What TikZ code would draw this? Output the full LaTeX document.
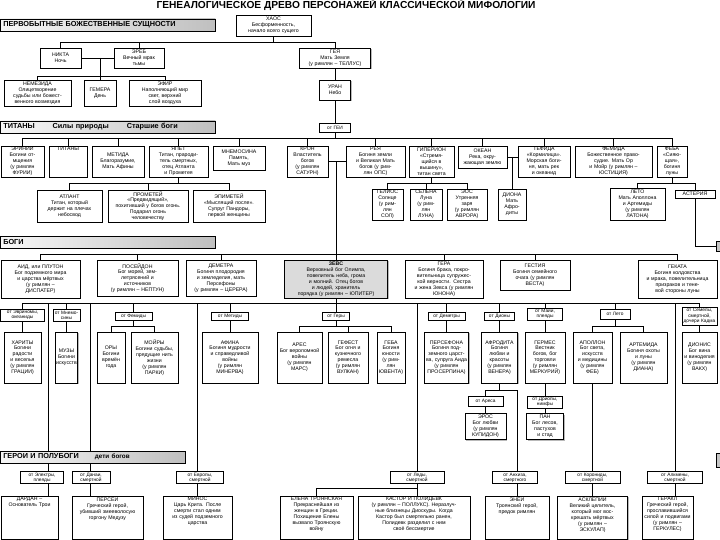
\documentclass[tikz,border=0pt]{standalone}
\usepackage{fontspec}
\setmainfont{Liberation Sans}
\usetikzlibrary{shadows, backgrounds}
\newcommand{\toptext}[2]{\parbox[c][#1pt][t]{\linewidth}{\centering #2}}

\tikzset{
  tbox/.style={rectangle, draw=black, line width=0.6pt, fill=white, align=center, inner xsep=0pt, inner ysep=1pt,
    font=\fontsize{5.2}{5.9}\selectfont, drop shadow={shadow xshift=1pt, shadow yshift=-1pt, fill=gray!55, opacity=1}},
  lbl/.style={rectangle, draw=black, line width=0.5pt, fill=white, align=center, inner xsep=0pt, inner ysep=0.6pt,
    font=\fontsize{4.8}{5.2}\selectfont},
  sz/.style 2 args={text width=#1pt, minimum height=#2pt},
  bar/.style={rectangle, draw=black, line width=0.6pt, left color=gray!6, right color=gray!50, anchor=west, align=left,
    inner xsep=3pt, inner ysep=0pt, minimum height=12pt, font=\fontsize{7.3}{8}\selectfont\bfseries},
  link/.style={line width=0.7pt}
}

\begin{document}
\begin{tikzpicture}[x=1pt, y=-1pt]
\useasboundingbox (0,0) rectangle (720,540);

\node[font=\fontsize{10.2}{11}\selectfont\bfseries] (title) at (346,5) {ГЕНЕАЛОГИЧЕСКОЕ ДРЕВО ПЕРСОНАЖЕЙ КЛАССИЧЕСКОЙ МИФОЛОГИИ};

% section bars
\node[bar, text width=209pt] (bar1) at (0,25) {ПЕРВОБЫТНЫЕ БОЖЕСТВЕННЫЕ СУЩНОСТИ};
\node[bar, text width=209pt] (bar2) at (0,127) {ТИТАНЫ\hspace{18pt}Силы природы\hspace{18pt}Старшие боги};
\node[bar, text width=209pt] (bar3) at (0,242) {БОГИ};
\node[bar, text width=179pt] (bar4) at (0,457) {ГЕРОИ И ПОЛУБОГИ\hspace{16pt}{\fontsize{6.3}{7}\selectfont дети богов}};
\draw[fill=gray!45] (716,241) rectangle (722,251);
\draw[fill=gray!45] (716,453) rectangle (722,467);

% primordial beings
\node[tbox, sz={75}{21}] (chaos) at (273.5,25.5) {ХАОС\\Бесформенность,\\начало всего сущего};
\node[tbox, sz={41}{20}] (nikta) at (60.5,58) {НИКТА\\Ночь};
\node[tbox, sz={50}{20}] (ereb) at (139,58) {ЭРЕБ\\Вечный мрак\\тьмы};
\node[tbox, sz={71}{20}] (geya) at (335,58) {ГЕЯ\\Мать Земля\\(у римлян – ТЕЛЛУС)};
\node[tbox, sz={67}{26}] (nemez) at (37.5,93) {НЕМЕЗИДА\\Олицетворение\\судьбы или божест-\\венного возмездия};
\node[tbox, sz={32}{26}] (gemera) at (100,93) {ГЕМЕРА\\День};
\node[tbox, sz={72}{26}] (efir) at (165,93) {ЭФИР\\Наполняющий мир\\свет, верхний\\слой воздуха};
\node[tbox, sz={31}{20}] (uran) at (335,90) {УРАН\\Небо};
\node[lbl, sz={31}{9}] (otgei) at (335,127.5) {от ГЕИ};

% titans
\node[tbox, sz={43}{31}] (erinii) at (22.5,161.5) {ЭРИНИИ\\Богини от-\\мщения\\(у римлян\\ФУРИИ)};
\node[tbox, sz={38}{31}] (titany) at (68,161.5) {\toptext{29}{ТИТАНЫ}};
\node[tbox, sz={52}{31}] (metida) at (118,161.5) {МЕТИДА\\Благоразумие,\\Мать Афины};
\node[tbox, sz={59}{31}] (yapet) at (178.5,161.5) {ЯПЕТ\\Титан, прароди-\\тель смертных,\\отец Атланта\\и Прометея};
\node[tbox, sz={52}{24}] (mnemos) at (239,158) {МНЕМОСИНА\\Память,\\Мать муз};
\node[tbox, sz={41}{31}] (kron) at (307.5,161.5) {КРОН\\Властитель\\богов\\(у римлян\\САТУРН)};
\node[tbox, sz={59}{31}] (reya) at (375.5,161.5) {РЕЯ\\Богиня земли\\и Великая Мать\\богов (у рим-\\лян ОПС)};
\node[tbox, sz={45}{31}] (giper) at (431.5,161.5) {ГИПЕРИОН\\«Стремя-\\щийся в\\вышину»,\\титан света};
\node[tbox, sz={49}{22}] (okean) at (482.5,157) {ОКЕАН\\Река, окру-\\жающая землю};
\node[tbox, sz={52}{31}] (tefida) at (544,161.5) {ТЕФИДА\\«Кормилица».\\Морская боги-\\ня, мать рек\\и океанид};
\node[tbox, sz={77}{31}] (femida) at (613.5,161.5) {ФЕМИДА\\Божественное право-\\судие. Мать Ор\\и Мойр (у римлян –\\ЮСТИЦИЯ)};
\node[tbox, sz={30}{31}] (feba) at (672,161.5) {ФЕБА\\«Сияю-\\щая»,\\богиня\\луны};

\node[tbox, sz={65}{32}] (atlant) at (69.5,206) {АТЛАНТ\\Титан, который\\держит на плечах\\небосвод};
\node[tbox, sz={80}{32}] (promet) at (148,206) {ПРОМЕТЕЙ\\«Предвидящий»,\\похитивший у богов огонь.\\Подарил огонь\\человечеству};
\node[tbox, sz={72}{32}] (epimet) at (229,206) {ЭПИМЕТЕЙ\\«Мыслящий после».\\Супруг Пандоры,\\первой женщины};
\node[tbox, sz={31}{31}] (gelios) at (387.5,204.5) {ГЕЛИОС\\Солнце\\(у рим-\\лян\\СОЛ)};
\node[tbox, sz={32}{31}] (selena) at (426,204.5) {СЕЛЕНА\\Луна\\(у рим-\\лян\\ЛУНА)};
\node[tbox, sz={40}{31}] (eos) at (467,204.5) {ЭОС\\Утренняя\\заря\\(у римлян\\АВРОРА)};
\node[tbox, sz={28}{31}] (diona) at (512,204.5) {ДИОНА\\Мать\\Афро-\\диты};
\node[tbox, sz={55}{32}] (leto) at (637.5,204) {ЛЕТО\\Мать Аполлона\\и Артемиды\\(у римлян\\ЛАТОНА)};
\node[tbox, sz={40}{8}] (aster) at (695,194) {АСТЕРИЯ};

% gods
\node[tbox, sz={79}{38}] (aid) at (40.5,279) {АИД, или ПЛУТОН\\Бог подземного мира\\и царства мёртвых\\(у римлян –\\ДИСПАТЕР)};
\node[tbox, sz={81}{36}] (posei) at (137.5,278) {ПОСЕЙДОН\\Бог морей, зем-\\летрясений и\\источников\\(у римлян – НЕПТУН)};
\node[tbox, sz={70}{36}] (demetra) at (221,278) {ДЕМЕТРА\\Богиня плодородия\\и земледелия, мать\\Персефоны\\(у римлян – ЦЕРЕРА)};
\node[tbox, sz={103}{38}, fill=gray!28] (zevs) at (336,279) {\textbf{ЗЕВС}\\Верховный бог Олимпа,\\повелитель неба, грома\\и молний. Отец богов\\и людей, хранитель\\порядка (у римлян – ЮПИТЕР)};
\node[tbox, sz={78}{38}] (gera) at (444,279) {ГЕРА\\Богиня брака, покро-\\вительница супружес-\\кой верности. Сестра\\и жена Зевса (у римлян\\ЮНОНА)};
\node[tbox, sz={70}{30}] (gestia) at (535,275) {ГЕСТИЯ\\Богиня семейного\\очага (у римлян\\ВЕСТА)};
\node[tbox, sz={79}{38}] (hekata) at (677.5,279) {ГЕКАТА\\Богиня колдовства\\и мрака, повелительница\\призраков и тене-\\вой стороны луны};

% children of Zeus
\node[lbl, sz={44}{12}] (l-evr) at (22.5,315) {от Эвриномы,\\океаниды};
\node[lbl, sz={27}{12}] (l-mnem) at (66.5,315) {от Мнемо-\\сины};
\node[lbl, sz={37}{8}] (l-fem) at (133.5,316) {от Фемиды};
\node[lbl, sz={37}{8}] (l-met) at (230,316) {от Метиды};
\node[lbl, sz={27}{8}] (l-ger) at (336,316) {от Геры};
\node[lbl, sz={37}{8}] (l-dem) at (446.5,316) {от Деметры};
\node[lbl, sz={30}{8}] (l-dio) at (499.5,316) {от Дионы};
\node[lbl, sz={35}{12}] (l-maia) at (545,314) {от Майи,\\плеяды};
\node[lbl, sz={30}{10}] (l-leto) at (615,314) {от Лето};
\node[lbl, sz={35}{18}] (l-sem) at (699.5,316) {от Семелы,\\смертной,\\дочери Кадма};

\node[tbox, sz={37}{51}] (harity) at (22.5,357.5) {ХАРИТЫ\\Богини\\радости\\и веселья\\(у римлян\\ГРАЦИИ)};
\node[tbox, sz={22}{51}] (muzy) at (66.5,357.5) {МУЗЫ\\Богини\\искусств};
\node[tbox, sz={28}{51}] (ory) at (111,357.5) {ОРЫ\\Богини\\времён\\года};
\node[tbox, sz={47}{51}] (moiry) at (154.5,357.5) {МОЙРЫ\\Богини судьбы,\\прядущие нить\\жизни\\(у римлян\\ПАРКИ)};
\node[tbox, sz={56}{51}] (afina) at (230,357.5) {АФИНА\\Богиня мудрости\\и справедливой\\войны\\(у римлян\\МИНЕРВА)};
\node[tbox, sz={45}{51}] (ares) at (299.5,357.5) {АРЕС\\Бог вероломной\\войны\\(у римлян\\МАРС)};
\node[tbox, sz={40}{51}] (gefest) at (348,357.5) {ГЕФЕСТ\\Бог огня и\\кузнечного\\ремесла\\(у римлян\\ВУЛКАН)};
\node[tbox, sz={28}{51}] (geba) at (391,357.5) {ГЕБА\\Богиня\\юности\\(у рим-\\лян\\ЮВЕНТА)};
\node[tbox, sz={44}{51}] (persef) at (446.5,357.5) {ПЕРСЕФОНА\\Богиня под-\\земного царст-\\ва, супруга Аида\\(у римлян\\ПРОСЕРПИНА)};
\node[tbox, sz={36}{51}] (afrod) at (499.5,357.5) {АФРОДИТА\\Богиня\\любви и\\красоты\\(у римлян\\ВЕНЕРА)};
\node[tbox, sz={40}{51}] (germes) at (545,357.5) {ГЕРМЕС\\Вестник\\богов, бог\\торговли\\(у римлян\\МЕРКУРИЙ)};
\node[tbox, sz={39}{51}] (apollon) at (592.5,357.5) {АПОЛЛОН\\Бог света,\\искусств\\и медицины\\(у римлян\\ФЕБ)};
\node[tbox, sz={47}{51}] (artem) at (643.5,357.5) {АРТЕМИДА\\Богиня охоты\\и луны\\(у римлян\\ДИАНА)};
\node[tbox, sz={35}{51}] (dionis) at (699.5,357.5) {ДИОНИС\\Бог вина\\и виноделия\\(у римлян\\ВАКХ)};

\node[lbl, sz={35}{10}] (l-ares) at (485.5,401.5) {от Ареса};
\node[tbox, sz={41}{26}] (eros) at (485.5,426.5) {ЭРОС\\Бог любви\\(у римлян\\КУПИДОН)};
\node[lbl, sz={35}{12}] (l-drio) at (545,402) {от Дриопы,\\нимфы};
\node[tbox, sz={37}{26}] (pan) at (545,426.5) {ПАН\\Бог лесов,\\пастухов\\и стад};

% heroes
\node[lbl, sz={43}{12}] (l-el) at (42,477.5) {от Электры,\\плеяды};
\node[lbl, sz={38}{12}] (l-dan) at (91,477.5) {от Данаи,\\смертной};
\node[lbl, sz={47}{12}] (l-evp) at (200,477.5) {от Европы,\\смертной};
\node[lbl, sz={54}{12}] (l-led) at (417,477.5) {от Леды,\\смертной};
\node[lbl, sz={45}{12}] (l-anh) at (515,477.5) {от Анхиза,\\смертного};
\node[lbl, sz={55}{12}] (l-kor) at (592.5,477.5) {от Корониды,\\смертной};
\node[lbl, sz={55}{12}] (l-alk) at (675,477.5) {от Алкмены,\\смертной};

\node[tbox, sz={57}{43}] (dardan) at (29.5,517.5) {\toptext{41}{ДАРДАН –\\Основатель Трои}};
\node[tbox, sz={71}{43}] (persei) at (107.5,517.5) {\toptext{41}{ПЕРСЕЙ\\Греческий герой,\\убивший змееволосую\\горгону Медузу}};
\node[tbox, sz={69}{43}] (minos) at (197.5,517.5) {\toptext{41}{МИНОС\\Царь Крита. После\\смерти стал одним\\из судей подземного\\царства}};
\node[tbox, sz={73}{43}] (elena) at (316.5,517.5) {\toptext{41}{ЕЛЕНА ТРОЯНСКАЯ\\Прекраснейшая из\\женщин в Греции.\\Похищение Елены\\вызвало Троянскую\\войну}};
\node[tbox, sz={112}{43}] (kastor) at (414,517.5) {\toptext{41}{КАСТОР И ПОЛИДЕВК\\(у римлян – ПОЛЛУКС). Неразлуч-\\ные близнецы Диоскуры. Когда\\Кастор был смертельно ранен,\\Полидевк разделил с ним\\своё бессмертие}};
\node[tbox, sz={64}{43}] (enei) at (517,517.5) {\toptext{41}{ЭНЕЙ\\Троянский герой,\\предок римлян}};
\node[tbox, sz={70}{43}] (asklep) at (592.5,517.5) {\toptext{41}{АСКЛЕПИЙ\\Великий целитель,\\который мог вос-\\крешать мёртвых\\(у римлян –\\ЭСКУЛАП)}};
\node[tbox, sz={51}{43}] (gerakl) at (667.5,517.5) {\toptext{41}{ГЕРАКЛ\\Греческий герой,\\прославившийся\\силой и подвигами\\(у римлян –\\ГЕРКУЛЕС)}};

\begin{scope}[on background layer, link]
\fill[white] (0,0) rectangle (720,540);
\coordinate (chl) at (0,42);
\coordinate (chk) at (0,76);
\coordinate (ne) at (100,58);
\coordinate (tl) at (0,138);
\coordinate (kr) at (336,161.5);
\coordinate (ot) at (512,157);
\coordinate (hl) at (0,183);
\coordinate (gl) at (0,254);
\coordinate (zl) at (0,303);
\coordinate (fl) at (0,326);
\coordinate (al) at (0,390);
\coordinate (ll) at (0,488);
\coordinate (asq) at (716,246);
\coordinate (z-el) at (48,303);
\coordinate (z-dan) at (90,303);
\coordinate (z-evp) at (197,303);
\coordinate (z-led) at (417,303);
\coordinate (z-alk) at (675,303);

\draw (chaos) -- (chaos |- chl);
\draw (nikta) -- (nikta |- chl) -- (geya |- chl) -- (geya);
\draw (ereb) -- (ereb |- chl);
\draw (nikta) -- (ereb);
\draw (ne) -- (gemera);
\draw (nemez) -- (nemez |- chk) -- (efir |- chk) -- (efir);
\draw (geya) -- (uran) -- (otgei) -- (otgei |- tl);

\draw (erinii) -- (erinii |- tl) -- (feba |- tl) -- (feba);
\foreach \n in {titany,metida,yapet,mnemos,kron,reya,giper,okean,tefida,femida}
  \draw (\n) -- (\n |- tl);
\draw (kron) -- (reya);
\draw (kr) -- (kr |- gl);
\draw (okean.east |- ot) -- (tefida.west |- ot);
\draw (ot) -- (diona);
\draw (yapet) -- (yapet |- hl);
\draw (atlant) -- (atlant |- hl) -- (epimet |- hl) -- (epimet);
\draw (promet) -- (promet |- hl);
\draw (giper) -- (giper |- hl);
\draw (gelios) -- (gelios |- hl) -- (eos |- hl) -- (eos);
\draw (selena) -- (selena |- hl);
\draw (feba) -- (feba |- hl);
\draw (leto) -- (leto |- hl) -- (aster |- hl) -- (aster);
\draw (aster) -- (aster |- asq) -- (asq);

\draw (aid) -- (aid |- gl) -- (hekata |- gl) -- (hekata);
\foreach \n in {posei,demetra,zevs,gera,gestia}
  \draw (\n) -- (\n |- gl);

\draw (zevs) -- (l-ger);
\draw (l-evr |- zl) -- (l-sem |- zl);
\foreach \n in {l-evr,l-mnem,l-fem,l-met,l-dem,l-dio,l-maia,l-leto,l-sem}
  \draw (\n) -- (\n |- zl);
\draw (l-evr) -- (harity);
\draw (l-mnem) -- (muzy);
\draw (l-fem) -- (l-fem |- fl);
\draw (ory) -- (ory |- fl) -- (moiry |- fl) -- (moiry);
\draw (l-met) -- (afina);
\draw (l-ger) -- (l-ger |- fl);
\draw (ares) -- (ares |- fl) -- (geba |- fl) -- (geba);
\draw (gefest) -- (gefest |- fl);
\draw (l-dem) -- (persef);
\draw (l-dio) -- (afrod);
\draw (l-maia) -- (germes);
\draw (l-leto) -- (l-leto |- fl);
\draw (apollon) -- (apollon |- fl) -- (artem |- fl) -- (artem);
\draw (l-sem) -- (dionis);

\draw (afrod) -- (afrod |- al);
\draw (l-ares) -- (l-ares |- al) -- (enei |- al) -- (enei);
\draw (l-ares) -- (eros);
\draw (germes) -- (l-drio) -- (pan);

\draw (z-el) -- (z-el |- dardan.north);
\draw (z-dan) -- (z-dan |- persei.north);
\draw (z-evp) -- (z-evp |- minos.north);
\draw (z-led) -- (z-led |- kastor.north);
\draw (elena) -- (elena |- ll) -- (z-led |- ll);
\draw (z-alk) -- (z-alk |- gerakl.north);
\draw (apollon) -- (asklep);
\end{scope}
\end{tikzpicture}
\end{document}
